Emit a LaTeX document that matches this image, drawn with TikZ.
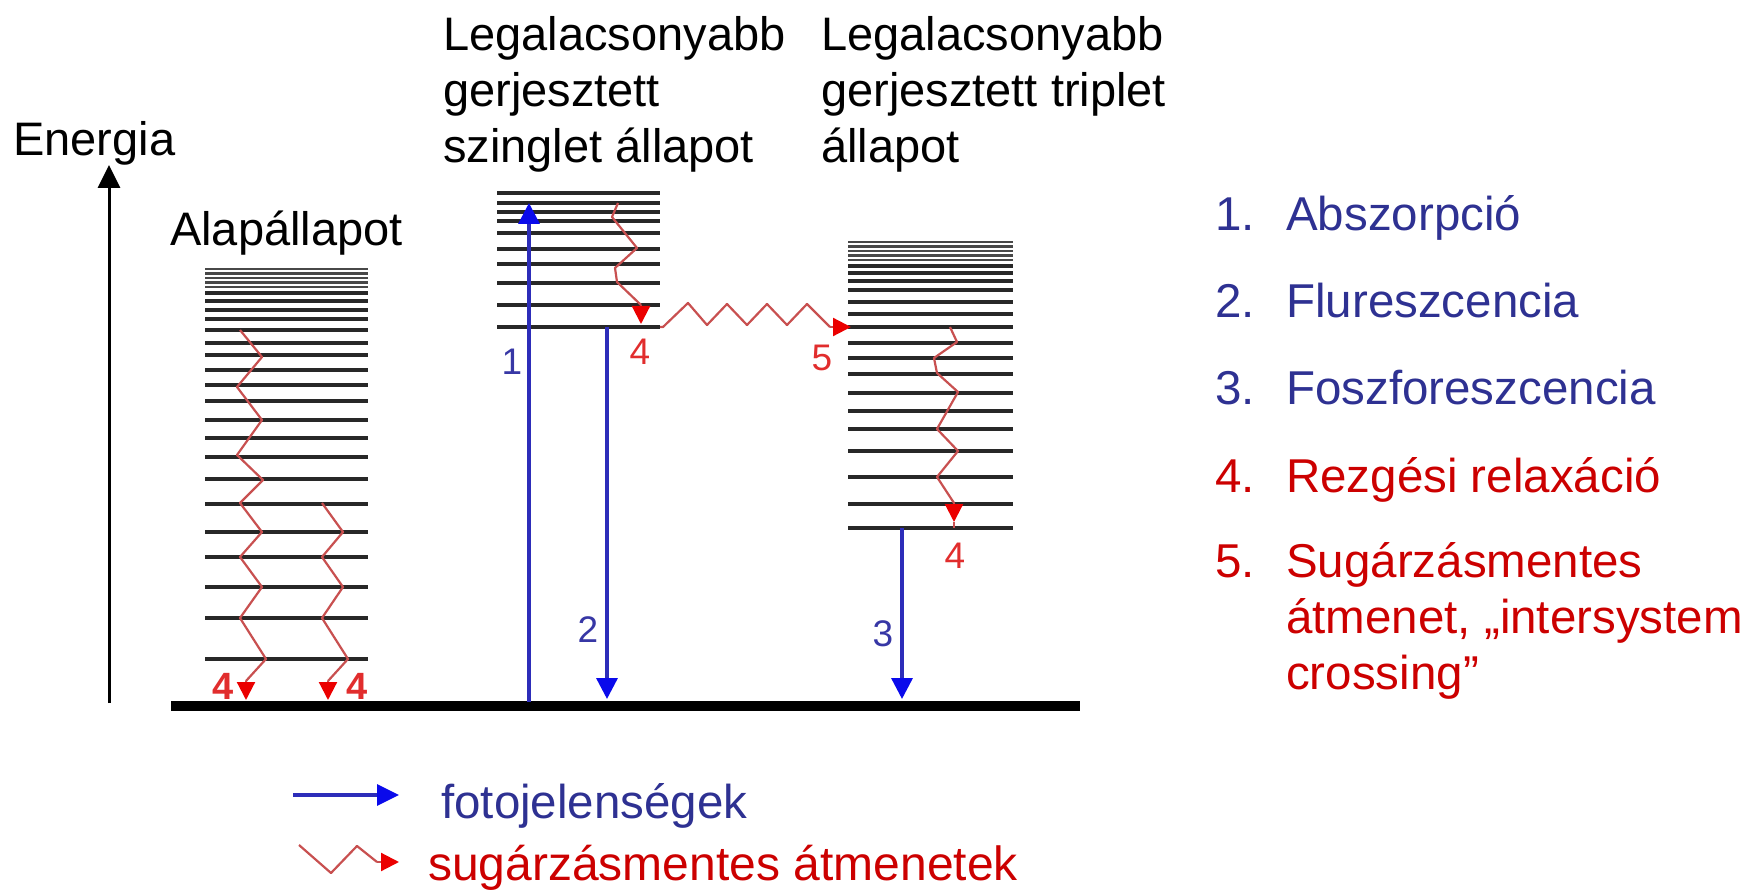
\documentclass[tikz,border=0pt]{standalone}
\usepackage{fontspec}
\setmainfont{Liberation Sans}
\usetikzlibrary{arrows.meta}
\definecolor{levelc}{RGB}{40,40,40}
\definecolor{arrowblue}{RGB}{45,45,185}
\definecolor{tipblue}{RGB}{10,10,235}
\definecolor{wavyc}{RGB}{200,80,80}
\definecolor{tipred}{RGB}{235,0,0}
\definecolor{textblue}{RGB}{46,49,146}
\definecolor{textred}{RGB}{204,0,0}
\definecolor{labblue}{RGB}{55,55,165}
\definecolor{labred}{RGB}{225,45,45}
\begin{document}
\begin{tikzpicture}[x=1pt,y=-1pt,
  lvl/.style={levelc,line width=3.8pt},
  dlvl/.style={levelc!85,line width=2.2pt},
  txt/.style={anchor=base west,inner sep=0pt,font=\fontsize{47}{56}\selectfont},
  ltxt/.style={anchor=base west,inner sep=0pt,font=\fontsize{47.5}{56}\selectfont},
  dlab/.style={inner sep=0pt,font=\fontsize{37}{40}\selectfont},
  photo/.style={arrowblue,line width=3.4pt,-{Triangle[length=21pt,width=21pt,color=tipblue]}},
  wavy/.style={wavyc,line width=2.2pt,line join=round},
  rtip/.style={wavyc,line width=2.2pt,-{Triangle[length=18pt,width=18pt,color=tipred]}}]
\useasboundingbox (0,0) rectangle (1751,890);

% ---------- titles ----------
\node[txt] (energia) at (13,156) {Energia};
\node[txt] (alap) at (170,246) {Alapállapot};
\node[txt] (s1a) at (443,51) {Legalacsonyabb};
\node[txt] (s1b) at (443,107) {gerjesztett};
\node[txt] (s1c) at (443,163) {szinglet állapot};
\node[txt] (t1a) at (821,51) {Legalacsonyabb};
\node[txt] (t1b) at (821,107) {gerjesztett triplet};
\node[txt] (t1c) at (821,163) {állapot};

% ---------- energy axis ----------
\coordinate (eb) at (109,703);
\coordinate (et) at (109,165);
\draw[line width=3pt,-{Triangle[length=23pt,width=22pt]}] (eb) -- (et);

% ---------- levels ----------
\foreach \y in {269,273.5,278,282.5,287}
  \draw[dlvl] (205,\y) -- (368,\y);
\foreach \y in {293,301,310,319,330,343,355,370,385,401,420,438,457,479,504,532,557,587,618,659}
  \draw[lvl] (205,\y) -- (368,\y);
\foreach \y in {193,203,212,221,233,249,264,283,305,327}
  \draw[lvl] (497,\y) -- (660,\y);
\foreach \y in {242,246.5,251,255.5,260}
  \draw[dlvl] (848,\y) -- (1013,\y);
\foreach \y in {266,273,281,290,302,314,327,343,358,374,393,411,429,451,477,504,528}
  \draw[lvl] (848,\y) -- (1013,\y);

% ground line
\coordinate (gL) at (171,706);
\coordinate (gR) at (1080,706);
\draw[black,line width=10pt] (gL) -- (gR);

% ---------- photo transitions ----------
\coordinate (a1s) at (529,702);
\coordinate (a1e) at (529,203);
\coordinate (a2s) at (607,327);
\coordinate (a2e) at (607,699);
\coordinate (a3s) at (902,528);
\coordinate (a3e) at (902,699);
\draw[photo] (a1s) -- (a1e);
\draw[photo] (a2s) -- (a2e);
\draw[photo] (a3s) -- (a3e);

% ---------- nonradiative ----------
% singlet relaxation
\coordinate (sw0) at (618,203);
\coordinate (sw1) at (641,305);
\coordinate (sw2) at (641,324);
\draw[wavy] (sw0) -- (612,217) -- (637,248) -- (615,268) -- (617,282) -- (sw1);
\draw[rtip] (sw1) -- (sw2);
% intersystem crossing
\coordinate (isc0) at (660,327);
\coordinate (isc1) at (830,327);
\coordinate (isc2) at (851,327);
\draw[wavy] (isc0) -- (663,327) -- (688,303) -- (707,325) -- (727,304) -- (747,325) -- (767,304) -- (787,325) -- (807,304) -- (isc1);
\draw[rtip] (isc1) -- (isc2);
% triplet relaxation
\coordinate (tw0) at (950,327);
\coordinate (tw1) at (954,503);
\coordinate (tw2) at (954,522);
\draw[wavy] (tw0) -- (957,342) -- (934,358) -- (937,373) -- (958,392) -- (937,429) -- (958,451) -- (937,477) -- (tw1);
\draw[rtip] (tw1) -- (tw2);
\draw[wavyc,line width=2pt] (tw2) -- (954,528);
% ground relaxation left
\coordinate (gw0) at (240,330);
\coordinate (gw1) at (246,681);
\coordinate (gw2) at (246,700);
\draw[wavy] (gw0) -- (262,357) -- (237,387) -- (262,420) -- (237,455) -- (263,480) -- (240,503) -- (262,532) -- (240,557) -- (262,587) -- (240,618) -- (266,659) -- (gw1);
\draw[rtip] (gw1) -- (gw2);
% ground relaxation right
\coordinate (hw0) at (322,503);
\coordinate (hw1) at (328,681);
\coordinate (hw2) at (328,700);
\draw[wavy] (hw0) -- (343,532) -- (322,557) -- (343,587) -- (322,618) -- (348,659) -- (hw1);
\draw[rtip] (hw1) -- (hw2);

% ---------- diagram labels ----------
\node[dlab,labblue] (n1) at (512,362) {1};
\node[dlab,labblue] (n2) at (588,630) {2};
\node[dlab,labblue] (n3) at (883,634) {3};
\node[dlab,labred] (n4a) at (640,352) {4};
\node[dlab,labred] (n4b) at (955,556) {4};
\node[dlab,labred] (n5) at (822,358) {5};
\node[dlab,labred,font=\fontsize{38}{40}\selectfont\bfseries] (n4c) at (223,686) {4};
\node[dlab,labred,font=\fontsize{38}{40}\selectfont\bfseries] (n4d) at (357,686) {4};

% ---------- right list ----------
\node[ltxt,textblue] (i1) at (1215,231) {1.};
\node[ltxt,textblue] (i1t) at (1286,231) {Abszorpció};
\node[ltxt,textblue] (i2) at (1215,318) {2.};
\node[ltxt,textblue] (i2t) at (1286,318) {Flureszcencia};
\node[ltxt,textblue] (i3) at (1215,405) {3.};
\node[ltxt,textblue] (i3t) at (1286,405) {Foszforeszcencia};
\node[ltxt,textred] (i4) at (1215,492) {4.};
\node[ltxt,textred] (i4t) at (1286,492) {Rezgési relaxáció};
\node[ltxt,textred] (i5) at (1215,577) {5.};
\node[ltxt,textred] (i5a) at (1286,577) {Sugárzásmentes};
\node[ltxt,textred] (i5b) at (1286,633) {átmenet, „intersystem};
\node[ltxt,textred] (i5c) at (1286,689) {crossing”};

% ---------- legend ----------
\coordinate (lb0) at (293,795);
\coordinate (lb1) at (399,795);
\draw[arrowblue,line width=3.4pt,-{Triangle[length=22pt,width=21pt,color=tipblue]}] (lb0) -- (lb1);
\node[ltxt,textblue] (leg1) at (441,818) {fotojelenségek};
\coordinate (lr0) at (299,845);
\coordinate (lr1) at (377,862);
\coordinate (lr2) at (399,862);
\draw[wavy] (lr0) -- (331,873) -- (357,846) -- (lr1);
\draw[rtip] (lr1) -- (lr2);
\node[anchor=base west,inner sep=0pt,font=\fontsize{48}{54}\selectfont,textred] (leg2) at (428,880) {sugárzásmentes átmenetek};
\end{tikzpicture}
\end{document}
